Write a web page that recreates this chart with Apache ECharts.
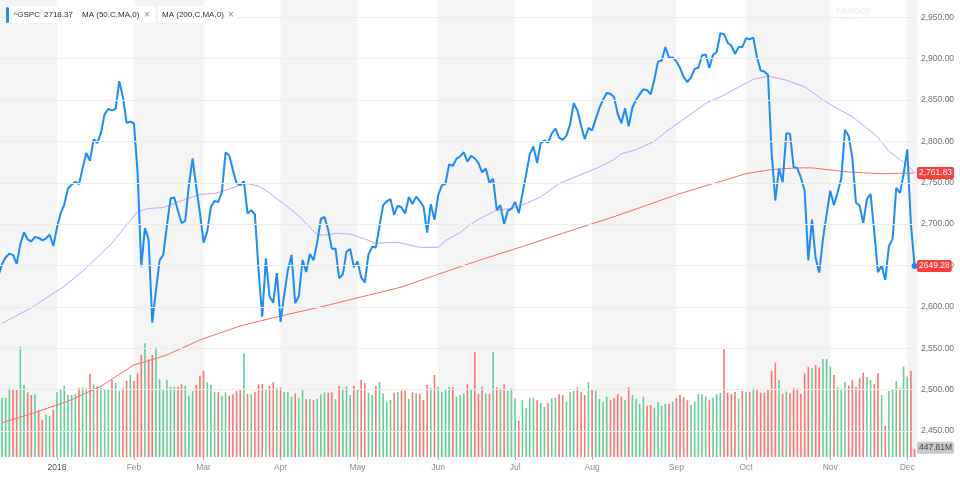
<!DOCTYPE html>
<html><head><meta charset="utf-8">
<script src="https://cdn.jsdelivr.net/npm/echarts@6/dist/echarts.min.js"></script>
<style>html,body{margin:0;padding:0;background:#fff}#c{width:960px;height:477px}</style>
</head><body><div id="c"></div>
<script>
// Daily closes, Dec 7 2017 .. Dec 6 2018 (first value sits at index -1, just left of the view)
const closes = [
2636.98,2651.50,2659.99,2664.11,2662.85,2652.01,2675.81,2690.16,2681.47,2679.25,2684.57,2683.34,2680.50,2682.62,2687.54,2673.61,
2695.81,2713.06,2723.99,2743.15,2747.71,2751.29,2748.23,2767.56,2786.24,2776.42,2802.56,2798.03,2810.30,2832.97,2839.13,2837.54,2839.25,2872.87,2853.53,2822.43,2823.81,
2821.98,2762.13,2648.94,2695.14,2681.66,2581.00,2619.55,2656.00,2662.94,2698.63,2731.20,2732.22,2716.26,2701.33,2703.96,2747.30,2779.60,2744.28,2713.83,
2677.67,2691.25,2720.94,2728.12,2726.80,2738.97,2786.57,2783.02,2765.31,2749.48,2747.33,2752.01,2712.92,2716.94,2711.93,2643.69,2588.26,2658.55,2612.62,2605.00,2640.87,
2581.88,2614.45,2644.69,2662.84,2604.47,2613.16,2656.87,2642.19,2663.99,2656.30,2677.84,2706.39,2708.64,2693.13,2670.14,2670.29,2634.56,2639.40,2666.94,2669.91,2648.05,
2654.80,2635.67,2629.73,2663.42,2672.63,2671.92,2697.79,2723.07,2727.72,2730.13,2711.45,2722.46,2720.13,2712.97,2733.01,2724.44,2733.29,2727.76,2721.33,2689.86,2724.01,2705.27,
2734.62,2746.87,2748.80,2772.35,2770.37,2779.03,2782.00,2786.85,2775.63,2782.49,2779.66,2773.75,2762.59,2767.32,2749.76,2754.88,2717.07,2723.06,2699.63,2716.31,2718.37,
2726.71,2713.22,2736.61,2759.82,2784.17,2793.84,2774.02,2798.29,2801.31,2798.43,2809.55,2815.62,2804.49,2801.83,2806.98,2820.40,2846.07,2837.44,2818.82,2802.60,2816.29,
2813.36,2827.22,2840.35,2850.40,2858.45,2857.70,2853.58,2833.28,2821.93,2839.96,2818.37,2840.69,2850.13,2857.05,2862.96,2861.82,2856.98,2874.69,2896.74,2897.52,2914.04,2901.13,2901.52,
2896.72,2888.60,2878.05,2871.68,2877.13,2887.89,2888.92,2904.18,2904.98,2888.80,2904.31,2907.95,2930.75,2929.67,2919.37,2915.56,2905.97,2914.00,2913.98,
2924.59,2923.43,2925.51,2901.61,2885.57,2884.43,2880.34,2785.68,2728.37,2767.13,2750.79,2809.92,2809.21,2768.78,2767.78,2755.88,2740.69,2656.10,2705.57,2658.69,2641.25,2682.63,2711.74,
2740.37,2723.06,2738.31,2755.45,2813.89,2806.83,2781.01,2726.22,2722.18,2701.58,2730.20,2736.27,2690.73,2641.89,2649.93,2632.56,2673.45,2682.17,2743.79,2737.80,2760.17,
2790.37,2700.06,2649.28
];
// Volume in millions, Dec 8 2017 .. Dec 6 2018 (index 0..249)
const volumes = [
3260,3260,3780,3740,3690,6070,3960,3560,3410,3450,
2550,2040,2310,2260,2590,3560,3740,3910,3410,3410,
3450,3780,3830,3780,4580,4000,3870,3810,3690,3690,
4240,4070,3630,3780,4200,4510,4180,4600,5610,6250,
5370,5610,6030,4270,3690,4240,3870,3870,3870,4000,
3910,3370,3630,3960,4470,4750,4110,3960,3590,3590,
3370,3560,3370,3450,3630,3690,5700,3470,3450,3590,
4000,4020,3690,3910,4110,3780,3810,3580,3560,3320,
3500,3230,3720,3190,3190,3140,3190,3450,3560,3540,
3560,3190,3910,3760,3870,3410,3920,3720,4240,4050,
3540,3410,3910,4130,3500,3010,3140,3540,3590,3650,
3650,3190,3560,3500,3480,3140,3960,3780,4510,3870,
3590,3690,3870,3830,3320,3410,3500,4000,3740,5760,
3470,3870,3500,3470,5760,3830,3760,4000,3630,3780,
3230,2000,3120,2680,3230,3230,3120,2970,2750,2970,
3230,3250,3450,3410,3040,3560,3630,3830,3580,3410,
4110,3690,3650,3190,3040,3320,3140,3230,3450,3320,
3140,3830,3410,3190,2920,3320,2820,2860,2710,3010,
2820,2930,2930,3040,3230,3410,3280,3120,2860,3040,
3450,3450,3320,3120,3260,3450,3520,5940,3540,3470,
3580,3210,3630,3560,3590,3780,3690,3540,3540,3740,
4730,5190,4220,3480,3610,3500,3780,3760,3470,4600,
4970,4880,5060,4930,5390,5390,4970,4510,3830,3690,
4130,3920,4240,3870,4330,4640,4420,4240,4020,4600,
3410,1720,3630,3690,4180,3780,4970,4420,4750,447.81
];
// 50-day moving average, read at sampled trading-day indices
const ma50 = [
[0,2580],[8,2599],[17,2625],[23,2647],[30,2677],[34,2699],[37,2715],[40,2719],[44,2720],[47,2725],
[50,2730],[54,2736],[58,2737],[61,2741],[65,2747],[67,2749],[70,2746],[72,2741],[77,2724],[81,2710],
[86,2687],[89,2687],[91,2689],[95,2688],[99,2682],[102,2677],[108,2678],[114,2672],[119,2672],[121,2680],
[125,2690],[127,2697],[130,2706],[135,2717],[139,2719],[142,2723],[147,2733],[152,2749],[158,2760],[163,2769],
[167,2778],[169,2785],[173,2790],[178,2800],[181,2811],[187,2830],[192,2846],[197,2856],[202,2868],[205,2875],
[209,2879],[214,2874],[219,2866],[221,2860],[224,2850],[229,2837],[232,2830],[236,2816],[239,2805],[242,2788],
[246,2775],[249,2763]
];
// 200-day moving average, read at sampled trading-day indices
const ma200 = [
[0,2460],[8,2471],[18,2486],[27,2504],[36,2530],[40,2535],[45,2542],[54,2560],[65,2577],[76,2589],
[87,2600],[98,2612],[109,2624],[120,2641],[130,2656],[142,2673],[153,2689],[167,2709],[176,2723],[185,2737],
[194,2749],[203,2761],[210,2766],[217,2768],[221,2768],[231,2763],[240,2761],[249,2761.83]
];
const monthStarts = [15,36,55,76,97,119,140,161,184,203,226,247];
const monthLabels = ['2018','Feb','Mar','Apr','May','Jun','Jul','Aug','Sep','Oct','Nov','Dec'];
const shadedMonths = [[-0.55,15],[36,55],[76,97],[119,140],[161,184],[203,226],[247,249.66]];
const priceTicks = [2450,2500,2550,2600,2650,2700,2750,2800,2850,2900,2950];
const legendTicker = '^GSPC';
const legendValue = '2718.37';
const legendMA = ['MA (50,C,MA,0)','MA (200,C,MA,0)'];

const FONT = '"Helvetica Neue", Helvetica, Arial, "Liberation Sans", sans-serif';
const BLUE = '#1a8cff', GREEN = '#62cf9a', RED = '#ff7373';
const X_MIN = -0.55, X_MAX = 249.66;

const chart = echarts.init(document.getElementById('c'));
const fmt2 = v => v.toLocaleString('en-US', {minimumFractionDigits: 2, maximumFractionDigits: 2});

chart.setOption({
  animation: false,
  grid: {left: 0, right: 43, top: 0, bottom: 20},
  xAxis: {
    type: 'value', min: X_MIN, max: X_MAX,
    splitLine: {show: false},
    axisLine: {show: false},
    axisTick: {show: true, customValues: monthStarts, length: 3, lineStyle: {color: '#b5b5b5'}},
    axisLabel: {
      customValues: monthStarts, margin: 6, fontSize: 8.5, fontFamily: FONT, color: '#8f8f8f',
      formatter: v => { const k = monthStarts.indexOf(v); return k === 0 ? '{y|' + monthLabels[k] + '}' : (monthLabels[k] || ''); },
      rich: {y: {color: '#555', fontSize: 8.5, fontFamily: FONT}}
    }
  },
  yAxis: [
    {
      type: 'value', position: 'right', min: 2418.6, max: 2970.9,
      splitLine: {show: false},
      axisLine: {show: true, lineStyle: {color: '#cfcfcf'}},
      axisTick: {show: false},
      axisLabel: {customValues: priceTicks, margin: 4, fontSize: 8.5, fontFamily: FONT, color: '#707070', formatter: v => fmt2(v)}
    },
    {type: 'value', min: 0, max: 25135, show: false}
  ],
  series: [
    {type: 'line', data: [], z: 0, silent: true,
     markArea: {silent: true, itemStyle: {color: '#f5f5f5'}, data: shadedMonths.map(([a, b]) => [{xAxis: a}, {xAxis: b}])}},
    {type: 'line', data: [], z: 1, silent: true,
     markLine: {silent: true, symbol: ['none', 'none'], label: {show: false}, animation: false,
       lineStyle: {color: '#ededed', type: 'solid', width: 1}, data: priceTicks.map(v => ({yAxis: v}))}},
    {type: 'bar', yAxisIndex: 1, barWidth: 1.6, z: 2, silent: true,
     data: volumes.map((v, i) => ({value: [i, v], itemStyle: {color: closes[i + 1] >= closes[i] ? GREEN : RED}}))},
    {type: 'line', data: ma200, showSymbol: false, silent: true, lineStyle: {color: '#ff6a6a', width: 1}, z: 3},
    {type: 'line', data: ma50, showSymbol: false, silent: true, lineStyle: {color: '#c8a0fa', width: 1}, z: 3},
    {type: 'line', data: closes.map((v, k) => [k - 1, v]), showSymbol: false, silent: true,
     lineStyle: {color: BLUE, width: 2}, z: 4,
     markPoint: {silent: true, symbol: 'circle', symbolSize: 6, itemStyle: {color: BLUE}, label: {show: false},
       data: [{coord: [closes.length - 2, closes[closes.length - 1]]}]}}
  ]
});

const xr = chart.convertToPixel({xAxisIndex: 0}, X_MAX);
const yMA = chart.convertToPixel({yAxisIndex: 0}, ma200[ma200.length - 1][1]);
const yC = chart.convertToPixel({yAxisIndex: 0}, closes[closes.length - 1]);
const yV = chart.convertToPixel({yAxisIndex: 1}, volumes[volumes.length - 1]);
const tag = (text, y, bg, fg) => ({type: 'text', z: 100, silent: true,
  style: {text, x: xr, y, align: 'left', verticalAlign: 'middle', fill: fg, backgroundColor: bg,
    padding: [2, 2, 1, 2], borderRadius: 2, font: '8.5px ' + FONT}});
const txt = (text, x, opts) => ({type: 'text', z: 100, silent: true,
  style: Object.assign({text, x, y: 15, align: 'left', verticalAlign: 'middle', fill: '#333', font: '8px ' + FONT}, opts || {})});

chart.setOption({
  graphic: [
    {type: 'rect', z: 90, silent: true, shape: {x: 7, y: 6, width: 148, height: 17, r: 2}, style: {fill: '#fff'}},
    {type: 'rect', z: 90, silent: true, shape: {x: 158, y: 6, width: 79, height: 17, r: 2}, style: {fill: '#fff'}},
    {type: 'rect', z: 95, silent: true, shape: {x: 6, y: 7, width: 3, height: 16, r: 1.5}, style: {fill: BLUE}},
    txt(legendTicker, 13.5),
    txt(legendValue, 44),
    txt(legendMA[0], 82),
    txt('×', 144, {fill: '#888', font: '10px ' + FONT}),
    txt(legendMA[1], 162),
    txt('×', 228, {fill: '#888', font: '10px ' + FONT}),
    {type: 'text', z: 80, silent: true, style: {text: 'YAHOO!', x: 835, y: 12, verticalAlign: 'middle', fill: '#f0f0f0', font: 'italic bold 9px ' + FONT}},
    {type: 'text', z: 80, silent: true, style: {text: 'FINANCE', x: 840, y: 18.5, verticalAlign: 'middle', fill: '#f0f0f0', font: '4px ' + FONT}},
    tag(fmt2(ma200[ma200.length - 1][1]), yMA, '#ff3d3d', '#fff'),
    tag(closes[closes.length - 1].toFixed(2), yC, '#ff3d3d', '#fff'),
    tag(volumes[volumes.length - 1].toFixed(2) + 'M', yV - 1, '#c6c9cd', '#444')
  ]
});
</script>
</body></html>
